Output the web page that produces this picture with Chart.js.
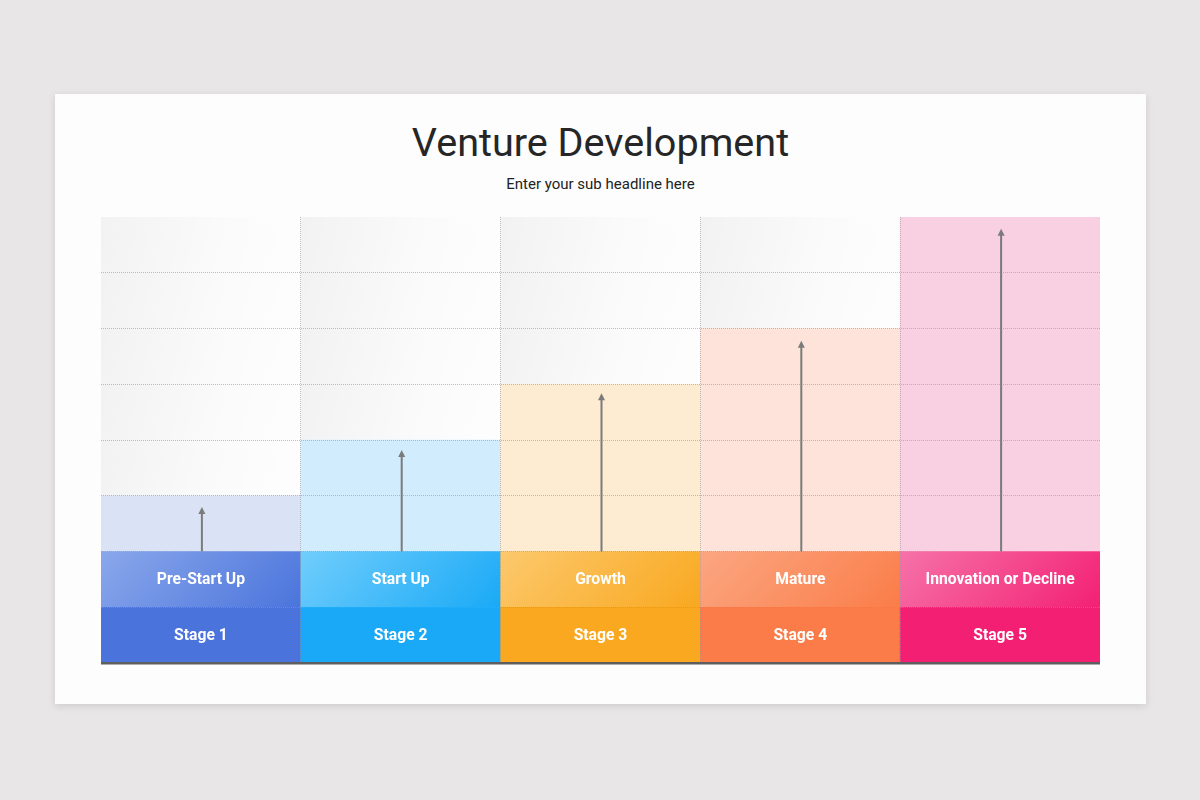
<!DOCTYPE html>
<html>
<head>
<meta charset="utf-8">
<script src="https://cdn.jsdelivr.net/npm/chart.js@4.4.1/dist/chart.umd.min.js"></script>
<style>
  html, body { margin: 0; padding: 0; }
  body { width: 1200px; height: 800px; background: #e8e6e7; position: relative; font-family: Roboto, sans-serif; }
  #card { position: absolute; left: 55px; top: 94px; width: 1091px; height: 610px; background: #fdfdfd; box-shadow: 0 2px 8px rgba(0,0,0,0.12); }
  #title { position: absolute; left: 0; width: 100%; top: 27px; text-align: center; font-size: 39.6px; line-height: 44px; color: #262626; }
  #sub { position: absolute; left: 0; width: 100%; top: 81px; text-align: center; font-size: 15px; line-height: 18px; color: #222; }
  #wrap { position: absolute; left: 46px; top: 123px; width: 999px; height: 448px; }
</style>
</head>
<body>
<div id="card">
  <div id="title">Venture Development</div>
  <div id="sub">Enter your sub headline here</div>
  <div id="wrap"><canvas id="myChart"></canvas></div>
</div>
<script>
// data
const stages = ['Stage 1', 'Stage 2', 'Stage 3', 'Stage 4', 'Stage 5'];
const phases = ['Pre-Start Up', 'Start Up', 'Growth', 'Mature', 'Innovation or Decline'];
const stageRow = [1, 1, 1, 1, 1];
const phaseRow = [1, 1, 1, 1, 1];
const levels = [1, 2, 3, 4, 6];
const emptyRows = [5, 4, 3, 2, 0];
const arrowTops = [2.8, 3.82, 4.84, 5.78, 7.79];

const baseColors = ['#4a74dc', '#19a9f6', '#f9a81f', '#fb7c48', '#f31f73'];
const lightColors = ['#8aa7eb', '#70cdfc', '#fcc86c', '#fba681', '#f672a8'];
const paleColors = ['#dae2f6', '#d1ecfc', '#fdecd1', '#fde3d9', '#f9cfe2'];

function phaseFill(ctx) {
  const chart = ctx.chart;
  const area = chart.chartArea;
  if (!area || ctx.dataIndex === undefined) return baseColors[0];
  const x = chart.scales.x, y = chart.scales.y;
  const w = (area.right - area.left) / stages.length;
  const cx = x.getPixelForValue(ctx.dataIndex);
  const top = y.getPixelForValue(2);
  const g = chart.ctx.createLinearGradient(cx - w / 2, top, cx + w / 2 - 40, top + 150);
  g.addColorStop(0, lightColors[ctx.dataIndex]);
  g.addColorStop(0.85, baseColors[ctx.dataIndex]);
  return g;
}

let grayPattern = null;
function grayFill(ctx) {
  const chart = ctx.chart;
  const area = chart.chartArea;
  if (!area) return '#f6f6f6';
  if (!grayPattern) {
    const tile = document.createElement('canvas');
    tile.width = 200; tile.height = 56;
    const t = tile.getContext('2d');
    const g = t.createLinearGradient(0, 0, 200, 56);
    g.addColorStop(0, '#f2f2f2');
    g.addColorStop(0.6, '#fbfbfb');
    g.addColorStop(1, '#fefefe');
    t.fillStyle = g;
    t.fillRect(0, 0, 200, 56);
    grayPattern = chart.ctx.createPattern(tile, 'repeat');
  }
  const y = chart.scales.y;
  const colW = (area.right - area.left) / stages.length;
  const rowH = Math.abs(y.getPixelForValue(0) - y.getPixelForValue(1));
  grayPattern.setTransform(new DOMMatrix([colW / 200, 0, 0, rowH / 56, area.left, area.top]));
  return grayPattern;
}

// arrows + cell labels
const overlay = {
  id: 'overlay',
  afterDraw(chart) {
    const c = chart.ctx, x = chart.scales.x, y = chart.scales.y;
    c.save();
    c.strokeStyle = '#7b7b7b';
    c.fillStyle = '#7b7b7b';
    c.lineWidth = 2;
    arrowTops.forEach((top, i) => {
      const px = x.getPixelForValue(i) + 1;
      const y0 = y.getPixelForValue(2);
      const y1 = y.getPixelForValue(top);
      c.beginPath();
      c.moveTo(px, y0);
      c.lineTo(px, y1 + 5);
      c.stroke();
      c.beginPath();
      c.moveTo(px, y1);
      c.lineTo(px - 3.5, y1 + 7);
      c.lineTo(px + 3.5, y1 + 7);
      c.closePath();
      c.fill();
    });
    c.fillStyle = '#ffffff';
    c.font = 'bold 15.7px Roboto';
    c.textAlign = 'center';
    c.textBaseline = 'middle';
    stages.forEach((s, i) => {
      const px = x.getPixelForValue(i);
      c.fillText(s, px, y.getPixelForValue(0.5) + 1);
      c.fillText(phases[i], px, y.getPixelForValue(1.5) + 1);
    });
    c.restore();
  }
};

const gridGray = 'rgba(150,150,150,0.6)';

const data = {
  labels: stages,
  datasets: [
    { label: 'Stage', data: stageRow, backgroundColor: baseColors },
    { label: 'Phase', data: phaseRow, backgroundColor: phaseFill },
    { label: 'Level', data: levels, backgroundColor: paleColors },
    { label: 'Empty', data: emptyRows, backgroundColor: grayFill }
  ]
};

const config = {
  type: 'bar',
  data,
  options: {
    responsive: true,
    maintainAspectRatio: false,
    animation: false,
    events: [],
    layout: { padding: { bottom: 2 } },
    datasets: { bar: { categoryPercentage: 1, barPercentage: 1, borderWidth: 0 } },
    plugins: { legend: { display: false }, tooltip: { enabled: false }, title: { display: false } },
    scales: {
      x: {
        stacked: true,
        ticks: { display: false },
        grid: {
          z: 1,
          offset: true,
          drawTicks: false,
          lineWidth: 1,
          color: ctx => (ctx.type === 'tick' && ctx.index > 0) ? gridGray : 'transparent'
        },
        border: { display: true, z: 2, color: '#5e5e5e', width: 2.5, dash: [1, 1] }
      },
      y: {
        stacked: true,
        min: 0,
        max: 8,
        ticks: { display: false, stepSize: 1 },
        grid: {
          z: 1,
          drawTicks: false,
          lineWidth: 1,
          color: ctx => (ctx.type === 'tick' && ctx.tick.value > 0 && ctx.tick.value < 8) ? gridGray : 'transparent'
        },
        border: { display: false, dash: [1, 1] }
      }
    }
  },
  plugins: [overlay]
};

const myChart = new Chart(document.getElementById('myChart'), config);
</script>
</body>
</html>
